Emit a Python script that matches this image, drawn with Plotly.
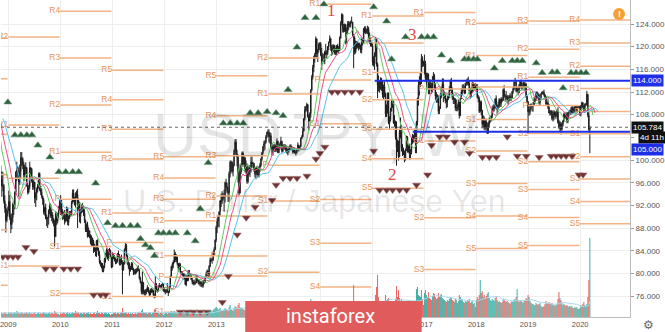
import numpy as np
import pandas as pd
import plotly.graph_objects as go

FONT = "Liberation Sans, Arial, sans-serif"

# ---------------- weekly USD/JPY bars (Monday dates) ----------------
FIRST_WEEK = "2008-07-07"
OPEN_FIRST = 106.0

C2008 = [106.6, 104.8, 107.0, 108.1, 110.1, 110.5, 110.0, 108.8, 107.4, 107.8, 104.5, 106.0, 105.2, 100.6, 101.6, 94.0, 98.5, 97.8, 96.6, 95.4, 95.5, 92.8, 91.5, 89.3, 90.5, 91.1]
H2008 = [107.9, 106.9, 107.3, 108.6, 110.3, 110.7, 110.5, 110.3, 109.0, 108.3, 108.0, 106.8, 106.4, 105.6, 102.7, 101.7, 99.3, 99.4, 99.0, 98.0, 97.9, 95.8, 93.8, 92.3, 91.4, 91.8]
L2008 = [105.6, 103.8, 104.5, 106.7, 107.8, 109.6, 109.1, 108.3, 106.6, 105.4, 104.0, 104.6, 104.0, 99.5, 98.0, 90.9, 93.1, 96.0, 95.5, 93.5, 94.5, 92.3, 90.7, 87.2, 89.0, 90.0]

C2009 = [92.7, 89.9, 88.6, 89.9, 92.2, 91.9, 94.3, 97.9, 98.2, 98.0, 96.1, 98.0, 100.4, 100.2, 99.2, 97.3, 98.7, 98.6, 95.4, 94.3, 95.3, 98.6, 98.4, 96.3, 95.2, 96.1, 93.3, 94.1, 94.8, 95.5, 97.6, 94.8, 94.4, 93.6, 92.9, 90.8, 91.6, 89.6, 89.7, 89.8, 91.1, 92.0, 90.1, 90.3, 89.7, 88.9, 86.5, 90.6, 89.2, 90.4, 91.4, 93.0]
H2009 = [94.6, 93.8, 90.5, 90.6, 92.5, 92.7, 94.5, 98.0, 99.7, 98.9, 98.7, 99.2, 101.4, 101.4, 100.5, 99.7, 99.2, 99.6, 98.8, 96.0, 95.6, 99.7, 98.8, 98.6, 96.9, 96.5, 96.1, 94.3, 95.2, 95.8, 97.8, 97.8, 95.4, 95.0, 93.7, 93.3, 91.8, 92.3, 90.4, 90.0, 91.3, 92.4, 92.3, 91.6, 90.8, 89.7, 89.4, 91.0, 90.8, 90.6, 91.9, 93.1]
L2009 = [91.0, 89.4, 87.1, 87.8, 89.0, 90.3, 91.3, 94.0, 96.3, 96.8, 93.5, 95.6, 96.8, 98.9, 98.4, 96.3, 96.3, 97.5, 95.3, 93.9, 94.1, 94.8, 96.9, 96.0, 94.7, 94.8, 92.4, 91.7, 92.9, 94.3, 95.0, 94.5, 93.8, 93.2, 92.1, 90.4, 90.2, 89.6, 88.3, 88.0, 88.6, 90.4, 89.8, 89.2, 88.8, 88.3, 84.8, 86.4, 88.5, 88.8, 89.8, 91.0]

C2010 = [92.5, 90.8, 90.3, 90.2, 89.2, 89.9, 91.5, 89.0, 90.1, 90.5, 90.6, 92.5, 94.2, 93.2, 92.1, 94.0, 93.9, 92.8, 92.5, 90.0, 91.0, 91.6, 91.6, 90.7, 89.3, 87.7, 88.6, 86.5, 87.5, 86.5, 85.4, 86.2, 85.6, 85.1, 84.3, 83.9, 85.8, 84.2, 83.3, 82.0, 81.4, 81.4, 80.4, 81.2, 82.5, 83.5, 84.1, 82.6, 84.0, 84.0, 82.9, 81.1]
H2010 = [93.8, 93.0, 91.3, 90.9, 91.2, 90.4, 91.8, 91.6, 90.2, 91.0, 91.0, 92.8, 94.8, 94.8, 93.5, 94.3, 94.6, 94.9, 93.2, 92.6, 91.3, 92.2, 92.4, 91.9, 91.3, 89.5, 88.8, 89.1, 88.1, 87.6, 86.9, 86.7, 86.3, 85.9, 85.2, 84.6, 85.9, 86.0, 84.5, 83.9, 82.3, 81.9, 81.8, 81.4, 82.7, 83.6, 84.4, 84.2, 84.3, 84.5, 84.2, 83.0]
L2010 = [90.3, 90.2, 89.4, 89.6, 88.6, 89.0, 89.2, 88.5, 88.4, 89.6, 90.0, 90.2, 92.3, 92.6, 92.0, 91.6, 93.3, 88.0, 91.0, 89.0, 88.8, 90.6, 90.8, 90.1, 88.9, 87.3, 87.3, 86.3, 86.4, 86.2, 85.1, 84.7, 84.7, 83.6, 83.8, 83.0, 82.9, 84.0, 83.1, 81.7, 81.2, 80.9, 80.2, 80.2, 80.9, 81.9, 82.9, 82.4, 82.2, 83.3, 82.7, 80.9]

C2011 = [83.2, 82.9, 82.5, 82.1, 82.2, 83.4, 83.1, 81.7, 82.3, 81.9, 80.6, 81.6, 84.2, 84.9, 83.1, 81.9, 81.2, 80.6, 80.9, 81.7, 80.8, 80.3, 80.2, 80.1, 80.4, 80.7, 80.6, 79.1, 78.4, 76.8, 78.4, 76.8, 76.5, 76.7, 76.8, 77.5, 76.8, 76.2, 77.1, 76.7, 77.0, 76.2, 75.8, 78.2, 77.0, 76.9, 77.7, 77.8, 77.6, 78.0, 78.1, 76.9]
H2011 = [83.7, 83.5, 83.2, 82.8, 82.5, 83.6, 84.0, 83.4, 82.8, 83.3, 82.3, 82.0, 84.4, 85.5, 85.2, 83.3, 82.2, 81.9, 81.3, 82.0, 81.9, 81.0, 80.7, 80.8, 80.9, 81.3, 81.4, 80.7, 79.4, 78.6, 80.3, 78.5, 77.1, 77.2, 77.3, 77.9, 77.5, 77.0, 77.3, 77.4, 77.3, 77.1, 76.4, 79.5, 78.2, 77.2, 77.9, 78.3, 77.9, 78.1, 78.3, 78.2]
L2011 = [81.3, 82.5, 82.1, 81.6, 81.7, 81.9, 82.8, 81.4, 81.4, 81.6, 76.3, 80.5, 81.6, 84.0, 82.9, 81.5, 80.8, 79.6, 80.3, 80.6, 80.6, 79.7, 79.8, 79.8, 80.0, 80.3, 80.4, 78.9, 78.2, 76.3, 76.3, 76.3, 76.1, 76.1, 76.3, 76.9, 76.5, 75.9, 76.1, 76.5, 76.6, 75.9, 75.6, 75.8, 76.8, 76.6, 76.8, 77.4, 77.5, 77.4, 77.8, 76.8]

C2012 = [76.9, 76.9, 77.0, 76.7, 76.6, 77.6, 79.5, 81.2, 81.6, 82.0, 83.4, 82.4, 82.9, 81.7, 80.9, 81.6, 80.3, 79.8, 79.9, 79.0, 79.6, 78.0, 79.5, 78.7, 80.4, 79.8, 79.7, 78.9, 78.5, 78.2, 78.3, 78.3, 79.6, 78.7, 78.4, 78.2, 78.4, 78.1, 77.9, 78.7, 78.5, 79.3, 79.9, 80.4, 79.5, 81.3, 82.4, 82.4, 82.4, 83.5, 84.2, 85.9, 88.1]
H2012 = [77.4, 77.2, 77.2, 78.3, 76.9, 77.8, 79.6, 81.3, 81.9, 82.3, 84.2, 83.8, 83.4, 82.9, 81.8, 81.9, 81.8, 80.4, 80.4, 80.0, 80.0, 79.8, 79.8, 79.6, 80.6, 80.6, 80.0, 79.9, 79.2, 78.8, 78.9, 78.6, 79.7, 79.7, 79.0, 78.9, 78.7, 78.6, 78.2, 78.8, 78.9, 79.4, 80.3, 80.7, 80.5, 81.4, 82.8, 82.7, 82.7, 83.9, 84.6, 86.0, 88.4]
L2012 = [76.6, 76.3, 76.5, 76.6, 76.0, 76.6, 77.5, 79.4, 80.5, 80.9, 81.8, 82.0, 82.0, 81.4, 80.3, 80.6, 80.1, 79.7, 79.6, 78.9, 79.0, 78.0, 77.7, 78.6, 78.7, 79.4, 79.3, 78.8, 78.1, 77.9, 77.9, 78.0, 78.3, 78.6, 78.1, 77.9, 77.7, 77.6, 77.5, 77.5, 78.1, 78.4, 79.3, 79.5, 79.1, 79.2, 81.1, 82.0, 81.7, 82.2, 83.2, 84.1, 85.5]

C2013 = [89.2, 90.1, 90.9, 92.8, 92.7, 93.5, 93.4, 93.6, 96.0, 95.3, 94.5, 94.2, 97.6, 99.6, 99.6, 98.0, 99.0, 101.6, 103.2, 101.0, 100.5, 97.5, 94.2, 97.9, 99.2, 101.2, 99.3, 100.4, 98.3, 98.9, 96.2, 97.5, 98.7, 98.2, 99.6, 99.4, 99.4, 98.3, 97.5, 98.6, 97.7, 97.4, 98.7, 99.1, 100.2, 101.3, 102.4, 102.9, 103.2, 104.1, 104.9, 104.9]
H2013 = [89.7, 90.3, 90.7, 92.9, 94.1, 94.5, 94.2, 94.8, 96.2, 96.7, 96.0, 95.2, 98.0, 99.9, 99.9, 99.8, 99.4, 101.9, 103.7, 103.7, 101.8, 101.0, 98.8, 98.3, 99.4, 101.5, 101.5, 100.9, 100.5, 99.9, 99.4, 98.5, 99.1, 99.1, 100.6, 100.6, 99.7, 99.4, 98.5, 98.8, 99.0, 98.4, 98.9, 99.5, 100.4, 101.4, 102.4, 103.4, 103.5, 104.4, 105.0, 105.4]
L2013 = [87.1, 88.2, 88.1, 90.1, 91.7, 92.2, 92.9, 90.9, 92.5, 95.1, 94.1, 92.6, 92.6, 96.9, 97.9, 97.6, 97.1, 98.9, 101.5, 100.6, 98.9, 96.0, 93.8, 94.1, 97.5, 99.1, 98.8, 99.2, 97.8, 97.6, 95.8, 95.9, 97.3, 97.0, 97.8, 98.8, 98.6, 97.9, 96.9, 96.6, 97.3, 97.0, 96.9, 97.9, 98.8, 99.9, 101.0, 101.6, 101.8, 102.9, 103.9, 104.5]

C2014 = [104.1, 104.3, 102.3, 102.0, 102.3, 101.8, 102.5, 101.8, 103.3, 101.3, 102.2, 102.8, 103.3, 101.6, 102.4, 102.2, 102.2, 101.8, 101.4, 101.9, 101.8, 102.5, 102.0, 101.9, 101.4, 102.1, 101.3, 101.3, 101.8, 102.6, 102.0, 102.4, 103.8, 104.1, 105.1, 107.3, 108.9, 109.3, 109.8, 107.6, 106.9, 108.2, 112.3, 114.6, 116.3, 117.8, 118.6, 121.4, 118.8, 119.5, 120.4, 120.5]
H2014 = [105.4, 104.9, 104.8, 102.9, 102.6, 102.8, 102.8, 102.7, 103.8, 103.4, 102.5, 103.1, 104.1, 103.4, 102.7, 102.8, 102.8, 102.7, 102.2, 102.0, 102.2, 102.7, 102.8, 102.5, 102.2, 102.3, 102.1, 101.6, 102.0, 103.1, 102.7, 102.5, 104.0, 104.4, 105.7, 107.4, 109.5, 109.5, 110.1, 109.2, 108.0, 108.4, 112.5, 115.0, 116.8, 118.4, 118.9, 121.8, 121.4, 119.6, 120.7, 120.8]
L2014 = [103.1, 102.9, 102.1, 100.8, 100.8, 101.4, 101.4, 101.4, 101.5, 101.2, 101.2, 101.8, 102.6, 101.3, 101.4, 101.9, 101.8, 101.4, 101.1, 100.8, 101.3, 101.8, 101.8, 101.7, 101.1, 101.3, 101.1, 100.8, 101.1, 101.6, 101.5, 101.8, 102.3, 103.7, 104.1, 105.2, 107.0, 108.4, 108.6, 107.5, 105.2, 106.8, 107.5, 112.2, 114.2, 115.5, 117.2, 118.2, 117.9, 117.3, 119.0, 119.4]

C2015 = [118.5, 117.5, 117.7, 117.5, 119.1, 118.7, 118.9, 120.0, 120.8, 121.4, 120.0, 119.1, 119.1, 120.2, 118.9, 118.9, 120.2, 119.8, 119.3, 121.5, 124.1, 125.6, 123.4, 122.7, 123.9, 122.8, 122.8, 124.0, 123.8, 123.9, 124.2, 124.3, 122.0, 121.6, 119.0, 120.6, 120.0, 120.5, 119.9, 120.2, 119.4, 121.5, 120.6, 123.2, 122.6, 122.8, 122.8, 123.1, 121.0, 121.1, 120.3, 120.2]
H2015 = [120.8, 119.8, 118.9, 118.7, 119.3, 120.5, 119.4, 120.1, 120.9, 122.0, 121.6, 120.3, 120.4, 120.4, 120.3, 119.8, 120.3, 120.5, 120.1, 121.8, 124.5, 125.9, 125.8, 124.0, 124.1, 123.9, 123.4, 124.5, 124.5, 124.4, 124.6, 125.3, 124.4, 122.2, 121.8, 121.1, 121.0, 121.0, 120.7, 120.7, 120.4, 121.5, 121.5, 123.3, 123.6, 123.6, 123.2, 123.7, 123.5, 122.5, 121.6, 120.7]
L2015 = [118.3, 115.9, 116.9, 117.3, 116.9, 118.5, 117.9, 118.5, 119.4, 120.7, 119.3, 118.4, 118.6, 119.3, 118.6, 118.5, 118.5, 119.0, 118.9, 119.4, 121.4, 123.8, 122.5, 122.5, 122.6, 120.4, 120.6, 122.2, 123.0, 123.4, 123.4, 124.2, 121.9, 116.2, 118.6, 118.8, 119.5, 119.7, 119.3, 119.6, 118.9, 118.8, 120.2, 120.6, 122.4, 122.2, 122.3, 122.2, 120.8, 120.5, 120.0, 120.0]

C2016 = [117.3, 117.0, 118.8, 121.1, 116.9, 113.2, 112.6, 114.0, 113.8, 113.8, 111.5, 113.0, 111.7, 108.1, 108.8, 111.8, 106.5, 107.1, 108.6, 110.2, 110.3, 106.5, 106.9, 104.1, 102.2, 102.5, 100.6, 104.9, 106.0, 102.1, 101.8, 101.3, 100.2, 101.8, 104.0, 102.7, 102.3, 101.0, 101.3, 102.9, 104.2, 103.8, 104.7, 103.1, 106.7, 110.9, 113.2, 113.5, 115.4, 117.9, 117.1, 117.0]
H2016 = [120.7, 118.3, 119.0, 121.7, 121.5, 117.2, 114.9, 114.0, 114.6, 114.5, 114.1, 113.3, 113.8, 111.9, 109.8, 111.9, 111.9, 107.7, 109.2, 110.6, 110.6, 110.5, 107.9, 106.9, 106.8, 103.6, 103.4, 105.4, 107.5, 106.2, 102.8, 102.2, 101.6, 102.0, 104.3, 104.2, 102.8, 102.9, 101.9, 104.0, 104.6, 104.4, 105.5, 105.5, 106.9, 111.0, 113.9, 114.8, 115.0, 118.7, 118.3, 117.5]
L2016 = [116.7, 116.5, 115.9, 118.2, 116.5, 110.9, 112.1, 111.9, 112.4, 112.2, 111.0, 110.7, 111.1, 107.6, 107.6, 108.2, 106.3, 105.5, 106.8, 108.7, 109.2, 106.4, 105.9, 103.6, 99.0, 101.4, 99.9, 100.5, 103.8, 101.5, 100.7, 100.9, 99.6, 99.9, 101.6, 101.3, 101.3, 100.1, 100.1, 101.0, 102.9, 103.1, 103.7, 101.2, 101.2, 106.1, 109.6, 111.4, 112.9, 113.4, 116.4, 116.5]

C2017 = [117.0, 114.5, 114.6, 115.1, 112.6, 113.2, 112.9, 112.1, 114.1, 114.8, 112.7, 111.3, 111.4, 111.1, 108.6, 109.1, 111.5, 112.7, 113.4, 111.3, 111.3, 110.4, 110.3, 110.9, 111.3, 112.4, 113.9, 112.5, 111.1, 110.7, 110.7, 109.2, 109.2, 109.4, 110.2, 107.8, 110.8, 112.0, 112.5, 112.6, 111.8, 113.5, 113.7, 114.1, 113.5, 112.1, 111.5, 112.2, 113.5, 112.6, 113.3, 112.7]
H2017 = [118.6, 117.5, 115.4, 115.4, 115.3, 114.2, 114.2, 113.6, 114.8, 115.5, 115.2, 113.6, 112.0, 111.6, 111.4, 109.5, 111.8, 112.9, 114.4, 114.4, 112.1, 111.9, 110.8, 111.4, 111.7, 113.0, 114.2, 114.5, 112.8, 111.7, 111.0, 110.9, 110.7, 109.8, 110.7, 110.1, 111.0, 112.7, 113.3, 113.4, 113.1, 113.6, 114.2, 114.4, 114.7, 114.1, 112.7, 112.9, 113.8, 113.7, 113.4, 113.6]
L2017 = [115.1, 113.8, 112.6, 113.7, 111.6, 111.6, 112.5, 111.7, 111.9, 113.8, 112.6, 110.6, 110.1, 110.1, 108.1, 108.1, 109.0, 110.9, 112.6, 110.2, 110.8, 110.0, 109.1, 109.3, 110.6, 110.9, 112.2, 111.8, 110.6, 109.9, 109.9, 108.7, 108.6, 108.6, 108.8, 107.3, 107.9, 110.8, 111.5, 112.2, 111.6, 111.7, 113.1, 113.2, 113.1, 111.8, 110.8, 111.1, 111.8, 112.2, 112.5, 112.6]

C2018 = [113.0, 111.1, 110.8, 108.6, 110.2, 108.8, 106.3, 106.9, 105.8, 106.8, 106.0, 104.7, 106.3, 106.9, 107.4, 107.7, 109.1, 109.1, 109.4, 110.8, 109.4, 109.5, 109.5, 110.7, 110.0, 110.7, 110.5, 112.4, 111.4, 111.1, 111.2, 110.8, 110.5, 111.2, 111.0, 110.9, 112.1, 112.6, 113.7, 113.7, 112.2, 112.5, 111.9, 113.2, 113.8, 112.8, 113.0, 113.6, 112.7, 113.4, 111.2, 110.3, 108.5]
H2018 = [113.4, 113.4, 111.5, 111.2, 110.5, 110.5, 108.8, 107.9, 107.7, 107.3, 107.3, 106.6, 106.7, 107.5, 107.8, 107.9, 109.5, 109.8, 109.8, 110.9, 111.4, 109.8, 110.3, 110.9, 110.8, 111.1, 111.0, 112.6, 113.2, 111.6, 112.2, 111.5, 111.4, 111.5, 111.8, 111.5, 112.2, 112.9, 113.8, 114.5, 114.0, 112.9, 112.9, 113.4, 114.1, 114.2, 113.2, 113.8, 113.8, 113.7, 113.6, 111.4, 110.4]
L2018 = [112.1, 110.9, 110.2, 108.3, 108.4, 107.9, 105.6, 105.6, 105.3, 105.2, 105.5, 104.6, 104.7, 105.7, 106.6, 106.8, 107.4, 108.5, 108.6, 109.1, 108.9, 108.1, 108.9, 109.2, 109.4, 109.4, 110.2, 110.5, 111.0, 110.3, 110.6, 110.1, 109.8, 110.3, 110.5, 110.4, 110.8, 111.7, 112.3, 113.5, 112.0, 111.8, 111.4, 111.8, 112.8, 112.5, 112.3, 112.7, 112.2, 112.5, 111.0, 110.0, 104.6]

C2019 = [108.5, 109.8, 109.5, 109.5, 109.7, 110.5, 110.7, 111.9, 111.2, 111.5, 110.1, 110.9, 111.7, 112.0, 111.9, 111.5, 111.1, 109.9, 110.1, 109.3, 108.3, 108.2, 108.6, 107.3, 107.9, 108.5, 107.9, 107.7, 108.7, 106.6, 105.7, 106.4, 105.4, 106.3, 106.9, 108.1, 107.6, 107.9, 106.9, 108.3, 108.4, 108.7, 108.2, 109.3, 108.8, 108.7, 109.5, 108.6, 109.4, 109.4, 109.4, 108.1]
H2019 = [109.0, 109.9, 110.0, 109.7, 110.2, 111.1, 111.0, 112.1, 112.1, 111.9, 111.7, 111.0, 111.8, 112.1, 112.2, 112.4, 111.6, 111.3, 110.3, 110.7, 109.9, 108.8, 108.8, 108.8, 108.2, 108.8, 108.6, 108.3, 108.9, 109.3, 107.1, 106.9, 106.7, 106.6, 107.0, 108.3, 108.5, 108.2, 108.5, 108.4, 108.7, 108.9, 109.3, 109.5, 109.5, 109.2, 109.7, 109.7, 109.6, 109.7, 109.6, 109.6]
L2019 = [107.8, 108.0, 108.9, 108.6, 108.5, 109.6, 110.1, 110.4, 110.8, 110.9, 109.8, 109.7, 110.6, 111.5, 111.6, 111.2, 110.9, 109.6, 109.6, 109.0, 108.3, 107.8, 107.9, 107.0, 106.8, 107.0, 107.5, 107.2, 107.7, 106.4, 105.5, 105.0, 104.5, 105.2, 105.9, 106.7, 107.4, 107.2, 106.5, 106.5, 107.6, 108.2, 107.9, 108.1, 108.2, 108.3, 108.4, 108.4, 108.4, 109.1, 109.1, 107.8]

C2020 = [109.5, 110.1, 109.3, 108.4, 109.8, 109.8, 111.6, 107.9, 105.4, 105.784]
H2020 = [109.7, 110.3, 110.2, 109.6, 110.0, 110.1, 112.2, 111.6, 108.5, 106.0]
L2020 = [107.7, 109.3, 109.1, 108.3, 108.3, 109.5, 109.6, 107.5, 105.0, 101.2]

# weekly volume (relative units)
V2008 = [4, 4, 4, 4, 4, 4, 4, 4, 4, 4, 4, 4, 4, 4, 4, 4, 4, 4, 5, 4, 3, 4, 5, 4, 3, 3]
V2009 = [5, 4, 4, 5, 3, 4, 5, 4, 6, 4, 5, 3, 4, 5, 4, 3, 4, 4, 5, 3, 4, 5, 3, 4, 3, 4, 5, 3, 3, 4, 5, 3, 4, 3, 4, 5, 4, 3, 4, 3, 4, 5, 3, 4, 4, 3, 6, 5, 4, 3, 3, 2]
V2010 = [4, 3, 4, 5, 4, 3, 4, 5, 3, 4, 3, 4, 5, 4, 4, 6, 5, 4, 5, 3, 4, 4, 3, 4, 5, 3, 4, 4, 5, 3, 4, 3, 3, 4, 5, 3, 4, 6, 4, 4, 3, 5, 4, 3, 4, 5, 4, 3, 4, 3, 2, 3]
V2011 = [3, 4, 4, 5, 3, 4, 4, 3, 4, 5, 9, 4, 4, 5, 4, 3, 4, 3, 4, 3, 4, 3, 3, 4, 3, 4, 5, 4, 5, 6, 8, 5, 4, 4, 4, 3, 4, 5, 4, 3, 4, 5, 7, 8, 5, 4, 4, 3, 4, 3, 3, 2]
V2012 = [3, 4, 4, 3, 5, 4, 5, 6, 5, 4, 6, 5, 4, 4, 3, 4, 4, 3, 4, 5, 4, 5, 4, 4, 5, 4, 3, 4, 4, 3, 3, 3, 4, 3, 3, 4, 3, 4, 3, 4, 4, 3, 5, 4, 5, 6, 7, 6, 5, 7, 8, 9, 10]
V2013 = [9, 7, 8, 9, 7, 6, 7, 8, 9, 8, 7, 6, 10, 12, 8, 7, 6, 9, 11, 10, 9, 12, 14, 10, 8, 9, 8, 7, 7, 6, 8, 7, 6, 6, 7, 6, 5, 6, 6, 5, 6, 5, 5, 6, 6, 6, 7, 6, 6, 7, 6, 4]
V2014 = [8, 9, 8, 7, 8, 7, 6, 7, 8, 7, 6, 6, 7, 6, 6, 6, 5, 6, 5, 6, 5, 5, 6, 5, 5, 6, 5, 5, 6, 6, 5, 6, 7, 8, 9, 12, 10, 9, 10, 12, 14, 11, 18, 13, 12, 11, 10, 14, 12, 10, 9, 8]
V2015 = [12, 13, 14, 10, 11, 10, 9, 11, 10, 11, 12, 10, 9, 9, 10, 9, 9, 10, 9, 10, 14, 15, 13, 11, 12, 11, 10, 11, 9, 9, 10, 10, 14, 32, 16, 12, 11, 10, 11, 10, 10, 11, 10, 13, 11, 10, 9, 10, 13, 11, 8, 7]
V2016 = [14, 13, 16, 22, 30, 42, 20, 16, 14, 13, 15, 12, 13, 22, 17, 18, 19, 15, 13, 14, 12, 16, 13, 18, 31, 20, 27, 19, 16, 18, 13, 14, 12, 14, 15, 13, 14, 16, 13, 12, 13, 12, 14, 13, 28, 30, 22, 21, 20, 27, 18, 12]
V2017 = [24, 27, 22, 20, 25, 19, 18, 17, 21, 24, 23, 20, 18, 19, 24, 20, 22, 23, 19, 18, 17, 16, 15, 17, 16, 18, 20, 19, 17, 16, 15, 18, 17, 14, 16, 22, 20, 18, 17, 15, 14, 16, 15, 17, 16, 18, 14, 15, 16, 13, 14, 10]
V2018 = [17, 20, 18, 22, 37, 24, 26, 20, 22, 19, 21, 23, 25, 19, 17, 16, 18, 17, 16, 19, 20, 17, 15, 16, 15, 14, 15, 18, 17, 16, 15, 16, 15, 14, 13, 15, 16, 15, 18, 17, 20, 28, 16, 15, 17, 16, 15, 14, 16, 17, 19, 18, 22]
V2019 = [20, 16, 14, 13, 13, 12, 12, 14, 13, 12, 13, 14, 11, 10, 10, 11, 13, 16, 14, 13, 15, 14, 13, 14, 12, 12, 11, 12, 13, 18, 25, 19, 17, 14, 12, 13, 12, 11, 12, 11, 10, 11, 10, 11, 9, 9, 10, 9, 10, 8, 8, 9]
V2020 = [12, 11, 13, 15, 12, 11, 13, 20, 37, 79]

# yearly pivot inputs: previous year's high / low / close
PIVOT_YEAR = [2008, 2009, 2010, 2011, 2012, 2013, 2014, 2015, 2016, 2017, 2018, 2019, 2020]
PREV_HIGH = [124.1, 112.3, 101.45, 94.98, 85.53, 86.6, 105.44, 121.85, 125.86, 121.69, 118.6, 114.55, 112.5]
PREV_LOW = [107.2, 87.4, 84.82, 80.22, 75.57, 76.0, 86.54, 100.76, 115.86, 99.0, 107.32, 104.63, 104.5]
PREV_CLOSE = [111.7, 90.7, 93.0, 81.12, 76.9, 86.6, 105.3, 119.78, 120.22, 116.87, 112.69, 109.69, 108.7]

# fractal markers (decimal year, price)
UP_T = [2008.994, 2009.128, 2009.243, 2009.358, 2009.454, 2009.569, 2009.799, 2009.972, 2010.106, 2010.240, 2010.355, 2010.681, 2010.911, 2011.064, 2011.199, 2011.352, 2011.486, 2011.544, 2011.640, 2011.735, 2011.812, 2011.889, 2011.985, 2012.100, 2012.215, 2012.445, 2012.598, 2012.694, 2012.847, 2013.135, 2013.269, 2013.403, 2013.518, 2013.652, 2013.806, 2013.978, 2014.151, 2014.285, 2014.381, 2014.553, 2014.707, 2014.918, 2015.071, 2016.029, 2016.278, 2016.374, 2016.642, 2016.949, 2017.064, 2017.179, 2017.332, 2017.505, 2017.773, 2017.850, 2017.946, 2018.022, 2018.348, 2018.502, 2018.693, 2018.789, 2018.885, 2019.154, 2019.269, 2019.461, 2019.556, 2019.671, 2019.824, 2019.920, 2020.016, 2020.112]
UP_V = [110.2, 104.4, 104.4, 104.4, 104.4, 102.6, 100.5, 97.9, 97.9, 97.9, 97.9, 95.9, 88.9, 88.4, 88.4, 88.4, 88.4, 86.1, 85.0, 84.5, 83.1, 87.1, 87.1, 87.1, 87.1, 87.1, 85.7, 91.4, 99.5, 106.5, 106.5, 106.5, 106.5, 108.3, 108.3, 108.5, 108.3, 107.8, 112.4, 119.9, 125.1, 125.1, 127.5, 127.0, 124.5, 117.8, 121.7, 121.7, 121.7, 121.7, 118.5, 117.5, 117.8, 117.8, 117.8, 117.8, 116.2, 117.5, 117.5, 117.5, 117.5, 117.1, 115.4, 115.5, 115.5, 112.7, 115.4, 115.4, 115.4, 115.4]
DN_T = [2008.898, 2008.994, 2009.090, 2009.186, 2009.339, 2009.493, 2009.723, 2009.876, 2010.068, 2010.202, 2010.336, 2010.643, 2010.777, 2010.873, 2012.311, 2012.445, 2012.560, 2012.694, 2012.828, 2013.116, 2013.231, 2013.403, 2013.576, 2013.748, 2014.074, 2014.151, 2014.285, 2014.419, 2014.553, 2014.745, 2014.918, 2014.994, 2015.090, 2015.224, 2015.339, 2015.473, 2015.607, 2015.760, 2016.029, 2016.144, 2016.278, 2016.393, 2016.527, 2016.661, 2016.853, 2017.064, 2017.140, 2017.294, 2017.428, 2017.581, 2017.773, 2017.869, 2018.118, 2018.252, 2018.386, 2018.597, 2018.789, 2018.962, 2019.211, 2019.441, 2019.537, 2019.633, 2019.728, 2019.843, 2019.978, 2020.055]
DN_V = [82.9, 82.9, 82.9, 82.9, 84.6, 83.9, 80.8, 80.8, 80.8, 80.8, 80.8, 76.2, 76.2, 76.2, 73.2, 73.2, 73.2, 73.2, 73.2, 74.9, 79.5, 86.8, 89.8, 91.7, 92.9, 95.6, 96.8, 96.8, 96.8, 97.2, 100.2, 101.2, 102.3, 112.0, 112.0, 112.0, 112.0, 112.0, 101.6, 94.7, 94.7, 94.7, 94.7, 94.7, 95.6, 97.4, 102.6, 104.1, 104.1, 103.2, 103.2, 101.2, 100.5, 100.5, 100.5, 104.1, 100.7, 100.7, 100.5, 100.7, 100.7, 100.7, 100.7, 100.7, 97.4, 97.4]

# wave labels and hand-drawn key levels
WAVE_TEXT = ["1", "2", "3"]
WAVE_T = [2015.224, 2016.393, 2016.776]
WAVE_V = [126.3, 97.5, 122.2]
KEY_LEVEL = [114.0, 105.0]
KEY_START = [2016.048, 2016.78]

Y_TICKS = [76, 80, 84, 88, 92, 96, 100, 104, 108, 112, 116, 120, 124]
Y_TICK_TEXT = ["76.000", "80.000", "84.000", "88.000", "92.000", "96.000", "100.000", "",
               "108.000", "112.000", "116.000", "120.000", "124.000"]
X_YEARS = list(range(2009, 2021))

# ---------------- assemble ----------------
closes = np.array(C2008 + C2009 + C2010 + C2011 + C2012 + C2013 + C2014 + C2015 + C2016 + C2017 + C2018 + C2019 + C2020)
highs = np.array(H2008 + H2009 + H2010 + H2011 + H2012 + H2013 + H2014 + H2015 + H2016 + H2017 + H2018 + H2019 + H2020)
lows = np.array(L2008 + L2009 + L2010 + L2011 + L2012 + L2013 + L2014 + L2015 + L2016 + L2017 + L2018 + L2019 + L2020)
vols = np.array(V2008 + V2009 + V2010 + V2011 + V2012 + V2013 + V2014 + V2015 + V2016 + V2017 + V2018 + V2019 + V2020, dtype=float)
n = len(closes)
dates = pd.date_range(FIRST_WEEK, periods=n, freq="W-MON")
opens = np.concatenate([[OPEN_FIRST], closes[:-1]])
highs = np.maximum(highs, np.maximum(opens, closes))
lows = np.minimum(lows, np.minimum(opens, closes))


def dec_year(t):
    y = int(t)
    return pd.Timestamp(year=y, month=1, day=1) + pd.Timedelta(days=(t - y) * 365.25)


def smma(x, k):
    out = np.full(len(x), np.nan)
    out[k - 1] = x[:k].mean()
    for i in range(k, len(x)):
        out[i] = (out[i - 1] * (k - 1) + x[i]) / k
    return out


YMIN, YMAX = 72.30, 128.235
XMIN, XMAX = "2008-11-11", "2020-12-16"

fig = go.Figure()

# pivot levels
PIV_LINE = "#f2b386"
PIV_TEXT = "#e6955a"
px_, py_, tx, ty, tt = [], [], [], [], []
for yr, h, l, c in zip(PIVOT_YEAR, PREV_HIGH, PREV_LOW, PREV_CLOSE):
    p = (h + l + c) / 3
    lv = {"P": p, "R1": 2 * p - l, "S1": 2 * p - h, "R2": p + (h - l), "S2": p - (h - l),
          "R3": 2 * p + (h - 2 * l), "S3": 2 * p - (2 * h - l), "R4": 3 * p + (h - 3 * l),
          "S4": 3 * p - (3 * h - l), "R5": 4 * p + (h - 4 * l), "S5": 4 * p - (4 * h - l)}
    s = pd.Timestamp(year=yr, month=1, day=1)
    e = pd.Timestamp(year=yr, month=12, day=27)
    for name, v in lv.items():
        if YMIN + 0.2 < v < YMAX - 0.2:
            px_ += [s, e, None]
            py_ += [v, v, None]
            tx.append(s)
            ty.append(v)
            tt.append(name)
fig.add_trace(go.Scatter(x=px_, y=py_, mode="lines", line=dict(color=PIV_LINE, width=1.5),
                         hoverinfo="skip", connectgaps=False))
fig.add_trace(go.Scatter(x=tx, y=ty, mode="text", text=tt, textposition="middle left",
                         textfont=dict(family=FONT, size=8.5, color=PIV_TEXT), hoverinfo="skip"))

# volume
vcol = np.where(closes >= opens, "rgba(38,166,154,0.95)", "rgba(235,80,76,0.95)")
fig.add_trace(go.Bar(x=dates, y=vols, marker=dict(color=list(vcol), line=dict(width=0)),
                     yaxis="y2", hoverinfo="skip"))
vma = pd.Series(vols).rolling(20, min_periods=1).mean().values
fig.add_trace(go.Scatter(x=dates, y=vma, mode="lines", line=dict(color="#a9d9ee", width=1),
                         yaxis="y2", hoverinfo="skip"))

# candles
fig.add_trace(go.Candlestick(x=dates, open=opens, high=highs, low=lows, close=closes,
                             increasing=dict(line=dict(color="#1c1c1c", width=1), fillcolor="#ffffff"),
                             decreasing=dict(line=dict(color="#1c1c1c", width=1), fillcolor="#1c1c1c"),
                             whiskerwidth=0, hoverinfo="skip"))

# alligator
median = (highs + lows) / 2
ext = pd.date_range(FIRST_WEEK, periods=n + 8, freq="W-MON")
for k, sh, col in [(13, 8, "#58c3ee"), (8, 5, "#ee4f8b"), (5, 3, "#62c95f")]:
    fig.add_trace(go.Scatter(x=ext[sh:sh + n], y=smma(median, k), mode="lines",
                             line=dict(color=col, width=1), hoverinfo="skip"))

# key horizontal levels
for lvl, st in zip(KEY_LEVEL, KEY_START):
    fig.add_trace(go.Scatter(x=[dec_year(st), pd.Timestamp("2021-06-01")], y=[lvl, lvl], mode="lines",
                             line=dict(color="#1f2fe6", width=2), hoverinfo="skip"))

# fractals
fig.add_trace(go.Scatter(x=[dec_year(t) for t in UP_T], y=UP_V, mode="markers",
                         marker=dict(symbol="triangle-up", size=7, color="#2f6140",
                                     line=dict(color="#6a9a74", width=0.6)), hoverinfo="skip"))
fig.add_trace(go.Scatter(x=[dec_year(t) for t in DN_T], y=DN_V, mode="markers",
                         marker=dict(symbol="triangle-down", size=7, color="#6e3434",
                                     line=dict(color="#a06a6a", width=0.6)), hoverinfo="skip"))

last = float(closes[-1])

shapes = [
    dict(type="line", xref="paper", yref="y", x0=0, x1=1, y0=last, y1=last,
         line=dict(color="#666666", width=1, dash="dot")),
    dict(type="rect", xref="paper", yref="paper", x0=245 / 631, x1=422 / 631, y0=-0.08, y1=16 / 317,
         fillcolor="#e05c5c", line=dict(width=0), layer="above"),
    dict(type="circle", xref="paper", yref="paper", x0=614 / 631, x1=626 / 631,
         y0=1 - 20 / 317, y1=1 - 8 / 317, fillcolor="#f5a033", line=dict(width=0), layer="above"),
]

ann = [
    dict(xref="paper", yref="paper", x=316 / 631, y=1 - 135 / 317, text="USDJPY, W", showarrow=False,
         font=dict(family=FONT, size=61, color="rgba(0,0,0,0.10)"), xanchor="center", yanchor="middle"),
    dict(xref="paper", yref="paper", x=314 / 631, y=1 - 201 / 317, text="U.S. Dollar / Japanese Yen",
         showarrow=False, font=dict(family=FONT, size=32, color="rgba(0,0,0,0.10)"),
         xanchor="center", yanchor="middle"),
    dict(xref="paper", yref="paper", x=331 / 631, y=1 - 316 / 317, text="instaforex", showarrow=False,
         font=dict(family="Roboto, " + FONT, size=20, color="white"), xanchor="center", yanchor="middle"),
    dict(xref="paper", yref="paper", x=620 / 631, y=1 - 14 / 317, text="<b>!</b>", showarrow=False,
         font=dict(family=FONT, size=9, color="white"), xanchor="center", yanchor="middle"),
    dict(xref="paper", yref="paper", x=650 / 631, y=1 - 325 / 317, text="⚙", showarrow=False,
         font=dict(family="DejaVu Sans", size=12, color="#666666"), xanchor="center", yanchor="middle"),
]
for t, v, s in zip(WAVE_T, WAVE_V, WAVE_TEXT):
    ann.append(dict(x=dec_year(t), y=v, xref="x", yref="y", text=s, showarrow=False,
                    font=dict(family="Liberation Serif, DejaVu Serif, serif", size=17, color="#e04848")))


def axis_box(v, text, bg, x=1.002):
    ann.append(dict(xref="paper", yref="y", x=x, y=v, text=text, showarrow=False, bgcolor=bg,
                    font=dict(family=FONT, size=8, color="white"), xanchor="left", yanchor="middle",
                    borderpad=1))


axis_box(KEY_LEVEL[0], "114.000", "#1f2fe6")
axis_box(last, f"{last:.3f}", "#111111")
axis_box(104.06, "4d 11h", "#111111", x=1.012)
axis_box(101.77, "105.000", "#1f2fe6")

fig.update_layout(
    width=665, height=332, margin=dict(l=0, r=34, t=0, b=15),
    paper_bgcolor="white", plot_bgcolor="white", showlegend=False,
    shapes=shapes, annotations=ann, bargap=0.05,
    xaxis=dict(type="date", range=[XMIN, XMAX], rangeslider=dict(visible=False),
               tickvals=[f"{y}-01-01" for y in X_YEARS], ticktext=[str(y) for y in X_YEARS],
               ticklabeloverflow="allow",
               showgrid=True, gridcolor="#eeeeee", gridwidth=1, zeroline=False,
               showline=True, linecolor="#bdbdbd", linewidth=1, ticks="",
               tickfont=dict(family=FONT, size=7.5, color="#555555")),
    yaxis=dict(side="right", range=[YMIN, YMAX], tickvals=Y_TICKS, ticktext=Y_TICK_TEXT,
               showgrid=True, gridcolor="#eeeeee", gridwidth=1, zeroline=False,
               showline=True, linecolor="#bdbdbd", linewidth=1, ticks="outside", ticklen=3,
               tickcolor="#999999", tickfont=dict(family=FONT, size=8, color="#555555")),
    yaxis2=dict(overlaying="y", range=[0, 317], visible=False, fixedrange=True),
)

fig.write_html("out.html")
